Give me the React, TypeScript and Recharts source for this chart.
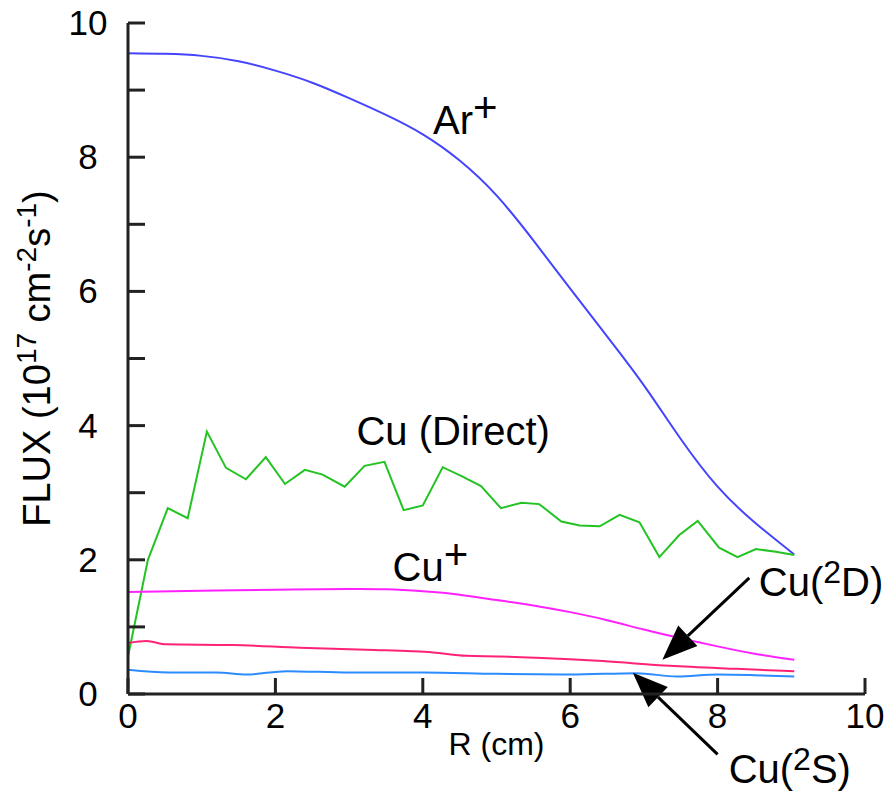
import React from 'react';
import { LineChart, Line, XAxis, YAxis, ReferenceLine, ReferenceDot, Label } from 'recharts';

const FONT = '"Liberation Sans", Arial, Helvetica, sans-serif';
const AXIS = '#222';

// Ar+ flux
const arR = [0, 0.5, 1, 1.5, 2, 2.5, 3, 3.5, 4, 4.5, 5, 5.5, 6, 6.5, 7, 7.5, 8, 8.5, 9.04];
const arFlux = [9.55, 9.54, 9.51, 9.43, 9.29, 9.11, 8.88, 8.63, 8.34, 7.95, 7.43, 6.76, 6.04, 5.33, 4.6, 3.8, 3.09, 2.56, 2.08];

// Cu (Direct)
const directR = [0, 0.27, 0.54, 0.81, 1.07, 1.33, 1.6, 1.87, 2.13, 2.4, 2.64, 2.94, 3.21, 3.48, 3.74, 4.0, 4.27, 4.54, 4.79,
  5.06, 5.34, 5.58, 5.88, 6.13, 6.4, 6.67, 6.94, 7.21, 7.48, 7.73, 8.02, 8.27, 8.52, 8.79, 9.04];
const directFlux = [0.56, 2.0, 2.77, 2.62, 3.91, 3.37, 3.2, 3.53, 3.13, 3.34, 3.27, 3.09, 3.4, 3.46, 2.74, 2.81, 3.38, 3.24, 3.1,
  2.77, 2.85, 2.83, 2.57, 2.51, 2.5, 2.67, 2.56, 2.04, 2.37, 2.58, 2.18, 2.04, 2.16, 2.12, 2.07];

// Cu+
const cuIonR = [0, 1, 2, 3, 3.5, 4, 4.5, 5, 5.5, 6, 6.5, 7, 7.5, 8, 8.5, 9.04];
const cuIonFlux = [1.52, 1.54, 1.555, 1.565, 1.56, 1.53, 1.48, 1.4, 1.32, 1.22, 1.1, 0.96, 0.83, 0.71, 0.6, 0.51];

// Cu(2D)
const cu2dR = [0, 0.25, 0.52, 1.42, 2.33, 3.23, 4.14, 4.59, 5.04, 5.54, 6.44, 7.35, 8.25, 9.04];
const cu2dFlux = [0.76, 0.79, 0.74, 0.73, 0.69, 0.66, 0.62, 0.57, 0.56, 0.54, 0.49, 0.42, 0.375, 0.34];

// Cu(2S)
const cu2sR = [0, 0.55, 1.2, 1.61, 2.15, 3.0, 4.0, 5.0, 6.0, 6.9, 7.45, 8.0, 8.5, 9.04];
const cu2sFlux = [0.36, 0.32, 0.32, 0.29, 0.34, 0.32, 0.32, 0.3, 0.29, 0.31, 0.26, 0.29, 0.28, 0.26];

const yTicks = [0, 1, 2, 3, 4, 5, 6, 7, 8, 9, 10];
const xTicks = [0, 2, 4, 6, 8, 10];

const toPoints = (rs: number[], vs: number[]) => rs.map((r, i) => ({ r, v: vs[i] }));

const YTick = (props: any) => {
  const { x, y, payload } = props;
  const v = payload.value;
  return (
    <g>
      <line x1={x} y1={y} x2={x + 17} y2={y} stroke={AXIS} strokeWidth={3} />
      {v % 2 === 0 && (
        <text x={x - 40} y={y + 12} textAnchor="middle" fontSize={35} fontFamily={FONT} fill="#000">
          {v}
        </text>
      )}
    </g>
  );
};

const XTick = (props: any) => {
  const { x, y, payload } = props;
  return (
    <g>
      <line x1={x} y1={y} x2={x} y2={y - 16} stroke={AXIS} strokeWidth={3} />
      <text x={x} y={y + 34} textAnchor="middle" fontSize={35} fontFamily={FONT} fill="#000">
        {payload.value}
      </text>
    </g>
  );
};

const yTitle = ({ viewBox }: any) => {
  const cx = viewBox.x + 50;
  const cy = viewBox.y + viewBox.height / 2;
  return (
    <text x={cx} y={cy} transform={`rotate(-90, ${cx}, ${cy})`} textAnchor="middle" fontSize={38} fontFamily={FONT} fill="#000">
      FLUX (10<tspan dy={-14} fontSize={28}>17</tspan>
      <tspan dy={14}> cm</tspan>
      <tspan dy={-14} fontSize={28}>-2</tspan>
      <tspan dy={14}>s</tspan>
      <tspan dy={-14} fontSize={28}>-1</tspan>
      <tspan dy={14}>)</tspan>
    </text>
  );
};

const xTitle = ({ viewBox }: any) => (
  <text x={viewBox.x + viewBox.width / 2} y={viewBox.y + 61} textAnchor="middle" fontSize={32} fontFamily={FONT} fill="#000">
    R (cm)
  </text>
);

// annotation text; sup = superscript piece, after = text following it
const note = (main: string, sup?: string, after?: string, supSize = 32, rise = 13) => (props: any) => (
  <text x={props.cx} y={props.cy} fontSize={40} fontFamily={FONT} fill="#000">
    {main}
    {sup && <tspan dy={-rise} fontSize={supSize}>{sup}</tspan>}
    {after && <tspan dy={rise}>{after}</tspan>}
  </text>
);

const arrow = (props: any) => {
  const { x1, y1, x2, y2 } = props;
  const dx = x2 - x1;
  const dy = y2 - y1;
  const len = Math.sqrt(dx * dx + dy * dy);
  const ux = dx / len;
  const uy = dy / len;
  const headL = 35;
  const headW = 14;
  const bx = x2 - ux * headL;
  const by = y2 - uy * headL;
  const pts = `${x2},${y2} ${bx - uy * headW},${by + ux * headW} ${bx + uy * headW},${by - ux * headW}`;
  return (
    <g>
      <line x1={x1} y1={y1} x2={bx} y2={by} stroke="#000" strokeWidth={3} />
      <polygon points={pts} fill="#000" />
    </g>
  );
};

export default function App() {
  return (
    <div style={{ position: 'absolute', left: 0, top: 0, width: 888, height: 791, background: '#fff' }}>
      <LineChart width={888} height={791} margin={{ top: 23, right: 23, bottom: 1, left: 0 }}>
        <XAxis
          dataKey="r"
          type="number"
          domain={[0, 10]}
          ticks={xTicks}
          interval={0}
          tick={<XTick />}
          tickLine={false}
          tickSize={0}
          tickMargin={0}
          height={96}
          axisLine={{ stroke: AXIS, strokeWidth: 3 }}
          allowDuplicatedCategory={false}
        >
          <Label content={xTitle} />
        </XAxis>
        <YAxis
          type="number"
          domain={[0, 10]}
          ticks={yTicks}
          interval={0}
          tick={<YTick />}
          tickLine={false}
          tickSize={0}
          tickMargin={0}
          width={128}
          axisLine={{ stroke: AXIS, strokeWidth: 3 }}
        >
          <Label content={yTitle} />
        </YAxis>
        <Line data={toPoints(arR, arFlux)} dataKey="v" type="natural" stroke="#4444ff" strokeWidth={2} dot={false} isAnimationActive={false} />
        <Line data={toPoints(directR, directFlux)} dataKey="v" type="linear" stroke="#22c322" strokeWidth={2} dot={false} isAnimationActive={false} />
        <Line data={toPoints(cuIonR, cuIonFlux)} dataKey="v" type="natural" stroke="#ff22ff" strokeWidth={2} dot={false} isAnimationActive={false} />
        <Line data={toPoints(cu2dR, cu2dFlux)} dataKey="v" type="monotone" stroke="#ff2277" strokeWidth={2} dot={false} isAnimationActive={false} />
        <Line data={toPoints(cu2sR, cu2sFlux)} dataKey="v" type="monotone" stroke="#2b8cff" strokeWidth={2} dot={false} isAnimationActive={false} />

        <ReferenceLine segment={[{ x: 8.43, y: 1.73 }, { x: 7.25, y: 0.51 }]} ifOverflow="visible" shape={arrow} />
        <ReferenceLine segment={[{ x: 8.0, y: -0.9 }, { x: 6.85, y: 0.315 }]} ifOverflow="visible" shape={arrow} />

        <ReferenceDot x={4.14} y={8.35} ifOverflow="visible" shape={note('Ar', '+', undefined, 42, 12)} />
        <ReferenceDot x={3.1} y={3.71} ifOverflow="visible" shape={note('Cu (Direct)')} />
        <ReferenceDot x={3.59} y={1.68} ifOverflow="visible" shape={note('Cu', '+', undefined, 42, 12)} />
        <ReferenceDot x={8.56} y={1.455} ifOverflow="visible" shape={note('Cu(', '2', 'D)')} />
        <ReferenceDot x={8.15} y={-1.32} ifOverflow="visible" shape={note('Cu(', '2', 'S)')} />
      </LineChart>
    </div>
  );
}
